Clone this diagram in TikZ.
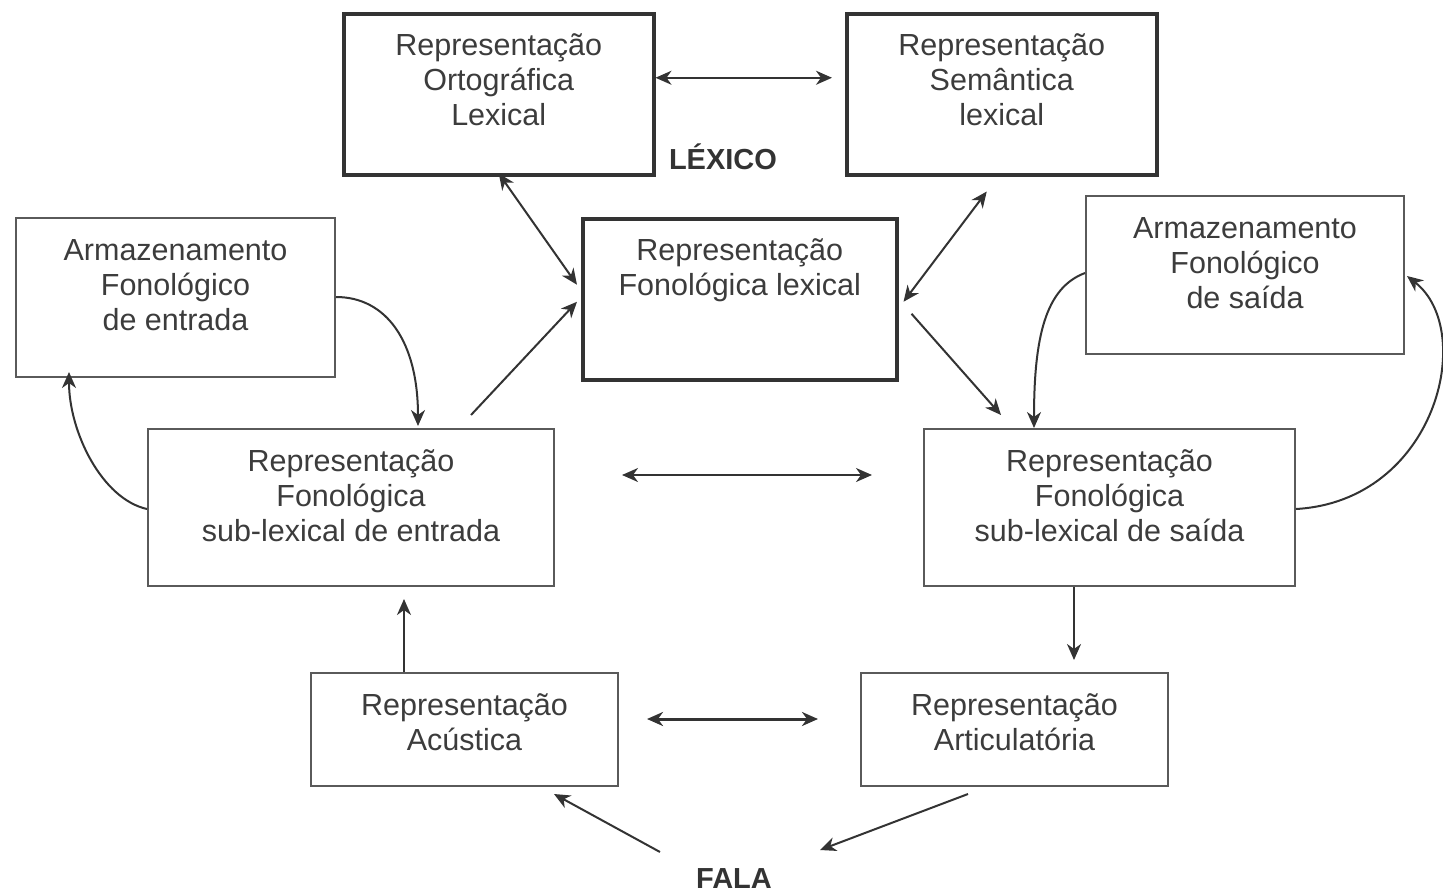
\documentclass[tikz,border=0pt]{standalone}
\usepackage{fontspec}
\setmainfont{Liberation Sans}
\usetikzlibrary{arrows.meta}
\definecolor{thickc}{HTML}{333333}
\definecolor{thinc}{HTML}{5A5A5A}
\definecolor{txtc}{HTML}{3C3C3C}
\definecolor{arrc}{HTML}{333333}
\newcommand{\fl}{\rule{0pt}{25pt}}
\begin{document}
\begin{tikzpicture}[x=1pt,y=-1pt,
  >={Stealth[length=16pt,width=14pt,inset=5pt]},
  thickbox/.style={draw=thickc, line width=3.5pt, rectangle, inner sep=0pt, anchor=north west},
  thinbox/.style={draw=thinc, line width=2pt, rectangle, inner sep=0pt, anchor=north west},
  lbl/.style={align=center, anchor=north, inner sep=0pt, text=txtc, font=\fontsize{30.5}{35}\selectfont},
  head/.style={inner sep=0pt, text=thickc, font=\fontsize{29}{32}\selectfont\bfseries},
  arr/.style={draw=arrc, line width=2pt, ->},
  darr/.style={draw=arrc, line width=2pt, <->},
]
\useasboundingbox (0,0) rectangle (1443,895);

% boxes
\node[thickbox, minimum width=310pt, minimum height=161pt] (ort) at (342,12) {};
\node[thickbox, minimum width=310pt, minimum height=161pt] (sem) at (845,12) {};
\node[thickbox, minimum width=314pt, minimum height=161pt] (fon) at (581,217) {};
\node[thinbox, minimum width=319pt, minimum height=159pt] (armE) at (15,217) {};
\node[thinbox, minimum width=318pt, minimum height=158pt] (armS) at (1085,195) {};
\node[thinbox, minimum width=406pt, minimum height=157pt] (subE) at (147,428) {};
\node[thinbox, minimum width=371pt, minimum height=157pt] (subS) at (923,428) {};
\node[thinbox, minimum width=307pt, minimum height=113pt] (acu) at (310,672) {};
\node[thinbox, minimum width=307pt, minimum height=113pt] (art) at (860,672) {};

% texts
\node[lbl] (ort-t) at ([shift={(0,18.5)}]ort.north) {\fl Representação\\Ortográfica\\Lexical};
\node[lbl] (sem-t) at ([shift={(0,18.5)}]sem.north) {\fl Representação\\Semântica\\lexical};
\node[lbl] (fon-t) at ([shift={(0,18.5)}]fon.north) {\fl Representação\\Fonológica lexical};
\node[lbl] (armE-t) at ([shift={(0,18.5)}]armE.north) {\fl Armazenamento\\Fonológico\\de entrada};
\node[lbl] (armS-t) at ([shift={(0,18.5)}]armS.north) {\fl Armazenamento\\Fonológico\\de saída};
\node[lbl] (subE-t) at ([shift={(0,18.5)}]subE.north) {\fl Representação\\Fonológica\\sub-lexical de entrada};
\node[lbl] (subS-t) at ([shift={(0,18.5)}]subS.north) {\fl Representação\\Fonológica\\sub-lexical de saída};
\node[lbl] (acu-t) at ([shift={(0,18.5)}]acu.north) {\fl Representação\\Acústica};
\node[lbl] (art-t) at ([shift={(0,18.5)}]art.north) {\fl Representação\\Articulatória};

\node[head] (lex) at (723,157) {LÉXICO};
\node[head] (fala) at (734,879) {FALA};

% connectors
\draw[darr] ([shift={(0,-16.5)}]ort.east) -- ([shift={(-13,-16.5)}]sem.west);
\draw[darr] ([shift={(0,-3)}]ort.south) -- ([shift={(-4,-14.5)}]fon.west);
\draw[darr] ([shift={(-15,15)}]sem.south) -- ([shift={(5,2.5)}]fon.east);
\draw[arr] ([shift={(120,-13)}]subE.north) -- ([shift={(-4,2.5)}]fon.west);
\draw[arr] ([shift={(13,14.5)}]fon.east) -- ([shift={(-108.5,-13)}]subS.north);

\draw[arr] ([shift={(0,-0.5)}]armE.east) .. controls +(50,0) and +(0,-85) .. ([shift={(67,-2)}]subE.north);
\draw[arr] ([shift={(0,1.5)}]subE.west) .. controls +(-45,-10) and +(0,60) .. ([shift={(-106.5,-6)}]armE.south);
\draw[arr] ([shift={(0,-2)}]armS.west) .. controls +(-40,15) and +(0,-90) .. ([shift={(-75.5,0)}]subS.north);
\draw[arr] ([shift={(0,1.5)}]subS.east) .. controls +(140,-8) and +(70,55) .. ([shift={(2,1)}]armS.east);

\draw[darr] ([shift={(67,-32.5)}]subE.east) -- ([shift={(-51,-32.5)}]subS.west);
\draw[arr] ([shift={(-60.5,0)}]acu.north) -- ([shift={(53,12)}]subE.south);
\draw[arr] ([shift={(-35.5,0)}]subS.south) -- ([shift={(59.5,-12)}]art.north);
\draw[darr, line width=3pt] ([shift={(28,-10.5)}]acu.east) -- ([shift={(-42,-10.5)}]art.west);
\draw[arr] ([shift={(-74,-27)}]fala.center) -- ([shift={(89.5,7)}]acu.south);
\draw[arr] ([shift={(-46.5,7)}]art.south) -- ([shift={(86,-29)}]fala.center);
\end{tikzpicture}
\end{document}
